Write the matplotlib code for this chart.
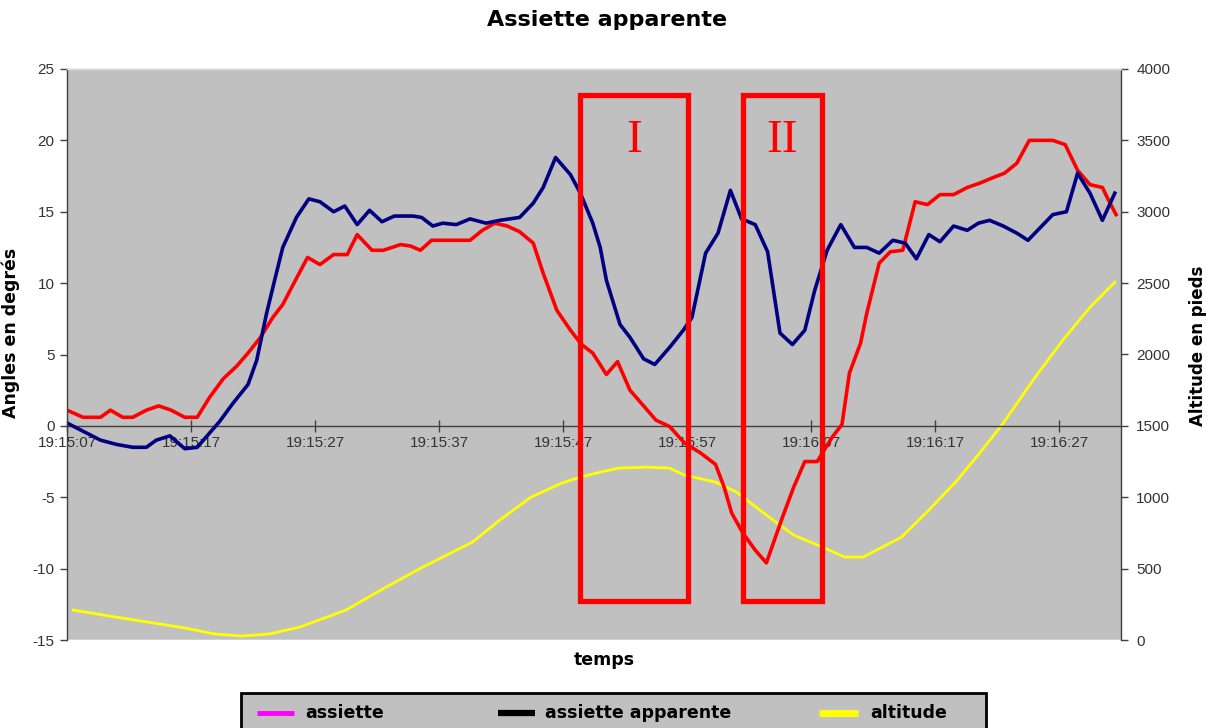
import matplotlib
matplotlib.use("Agg")
import matplotlib.pyplot as plt
from matplotlib.lines import Line2D
from matplotlib.patches import Rectangle

plt.rcParams["axes.unicode_minus"] = False

# ---- data (seconds after 19:15:07) ----
tick_pos = [0, 10, 20, 30, 40, 50, 60, 70, 80]
tick_labels = ["19:15:07", "19:15:17", "19:15:27", "19:15:37", "19:15:47",
               "19:15:57", "19:16:07", "19:16:17", "19:16:27"]

t_app = [0, 2.7, 4, 5.3, 6.4, 7.2, 8.3, 9.5, 10.5, 12.3, 13.4, 14.6, 15.3, 16.1,
         16.8, 17.4, 18.5, 19.5, 20.4, 21.5, 22.4, 23.4, 24.4, 25.4, 26.4, 27.9,
         28.6, 29.5, 30.3, 31.4, 32.5, 33.8, 34.9, 36.5, 37.6, 38.4, 39.4, 40.6,
         41.4, 42.4, 43.0, 43.5, 44.6, 45.4, 46.5, 47.4, 48.6, 49.7, 50.4, 51.5,
         52.5, 53.5, 54.4, 55.5, 56.5, 57.5, 58.5, 59.5, 60.3, 61.3, 62.4, 63.5,
         64.5, 65.5, 66.6, 67.6, 68.5, 69.5, 70.4, 71.5, 72.6, 73.5, 74.4, 75.5,
         76.6, 77.5, 78.5, 79.5, 80.6, 81.5, 82.5, 83.5, 84.5]
assiette_apparente = [0.2, -1.0, -1.3, -1.5, -1.5, -1.0, -0.7, -1.6, -1.5, 0.3, 1.6,
                      2.9, 4.6, 7.9, 10.4, 12.5, 14.6, 15.9, 15.7, 15.0, 15.4, 14.1,
                      15.1, 14.3, 14.7, 14.7, 14.6, 14.0, 14.2, 14.1, 14.5, 14.2,
                      14.4, 14.6, 15.6, 16.7, 18.8, 17.6, 16.3, 14.2, 12.5, 10.2,
                      7.1, 6.2, 4.7, 4.3, 5.5, 6.7, 7.6, 12.1, 13.5, 16.5, 14.5,
                      14.1, 12.2, 6.5, 5.7, 6.7, 9.5, 12.3, 14.1, 12.5, 12.5, 12.1,
                      13.0, 12.8, 11.7, 13.4, 12.9, 14.0, 13.7, 14.2, 14.4, 14.0,
                      13.5, 13.0, 13.9, 14.8, 15.0, 17.7, 16.3, 14.4, 16.3]

t_ass = [0, 1.3, 2.7, 3.5, 4.5, 5.3, 6.4, 7.4, 8.4, 9.5, 10.5, 11.5, 12.6, 13.7,
         14.6, 15.6, 16.6, 17.4, 18.3, 19.4, 20.4, 21.5, 22.6, 23.4, 24.6, 25.5,
         26.9, 27.7, 28.5, 29.4, 32.5, 33.5, 34.5, 35.5, 36.5, 37.6, 38.4, 39.5,
         40.6, 41.5, 42.4, 43.5, 44.4, 45.4, 46.1, 47.5, 48.6, 49.8, 51.1, 52.3,
         53.0, 53.6, 54.5, 55.5, 56.4, 57.7, 58.6, 59.5, 60.5, 61.7, 62.5, 63.1,
         64.0, 64.5, 65.5, 66.4, 67.4, 68.4, 69.4, 70.4, 71.5, 72.6, 73.6, 74.7,
         75.6, 76.6, 77.6, 79.5, 80.5, 81.5, 82.5, 83.5, 84.0, 84.6]
assiette = [1.1, 0.6, 0.6, 1.1, 0.6, 0.6, 1.1, 1.4, 1.1, 0.6, 0.6, 2.0, 3.3, 4.2,
            5.1, 6.2, 7.6, 8.5, 10.0, 11.8, 11.3, 12.0, 12.0, 13.4, 12.3, 12.3,
            12.7, 12.6, 12.3, 13.0, 13.0, 13.7, 14.2, 14.0, 13.6, 12.8, 10.7, 8.1,
            6.7, 5.7, 5.1, 3.6, 4.5, 2.5, 1.8, 0.4, -0.05, -1.2, -1.9, -2.7, -4.3,
            -6.1, -7.5, -8.7, -9.6, -6.4, -4.3, -2.5, -2.5, -0.8, 0.1, 3.7, 5.8,
            7.9, 11.4, 12.2, 12.3, 15.7, 15.5, 16.2, 16.2, 16.7, 17.0, 17.4, 17.7,
            18.4, 20.0, 20.0, 19.7, 17.9, 16.9, 16.7, 15.8, 14.8]

t_alt = [0.5, 3.9, 7.0, 9.5, 11.9, 14.1, 16.3, 18.8, 22.5, 25.6, 28.7, 32.7, 34.9,
         37.4, 39.9, 41.4, 43.0, 44.5, 46.7, 48.6, 49.8, 52.3, 54.0, 56.4, 58.6,
         61.1, 62.7, 64.2, 67.3, 69.5, 71.8, 73.6, 75.5, 77.9, 80.3, 82.5, 84.5]
altitude = [210, 161, 119, 84, 42, 28, 42, 91, 210, 364, 511, 686, 840, 1000, 1099,
            1141, 1176, 1204, 1211, 1204, 1155, 1106, 1036, 875, 735, 644, 581,
            581, 721, 910, 1120, 1309, 1519, 1820, 2100, 2331, 2506]

# highlighted zones (time range, angle range) and labels
zones = [(41.4, 50.1, "I"), (54.5, 60.9, "II")]
zone_ylim = (-12.3, 23.2)

# ---- figure ----
W, H = 1207, 728
fig = plt.figure(figsize=(W / 100, H / 100), dpi=100)
fig.patch.set_facecolor("white")
ax = fig.add_axes([67 / W, 1 - 640 / H, (1121 - 67) / W, (640 - 69) / H])
ax2 = ax.twinx()
ax.set_zorder(ax2.get_zorder() + 1)
ax.patch.set_visible(False)
ax2.patch.set_visible(True)
ax2.patch.set_facecolor("#C0C0C0")

ax2.plot(t_alt, altitude, color="#FFFF00", lw=2.0, solid_joinstyle="round")
ax.plot(t_ass, assiette, color="#FF0000", lw=2.6, solid_joinstyle="round")
ax.plot(t_app, assiette_apparente, color="#000080", lw=2.6, solid_joinstyle="round")

for x0, x1, lab in zones:
    ax.add_patch(Rectangle((x0, zone_ylim[0]), x1 - x0, zone_ylim[1] - zone_ylim[0],
                           fill=False, edgecolor="#FF0000", lw=3.8, zorder=10,
                           joinstyle="miter"))
    ax.text((x0 + x1) / 2, 20.0, lab, color="#FF0000", fontsize=34,
            family="Liberation Serif", ha="center", va="center", zorder=11)

ax.set_xlim(0, 85)
ax.set_ylim(-15, 25)
ax2.set_ylim(0, 4000)
ax.set_yticks(range(-15, 30, 5))
ax2.set_yticks(range(0, 4500, 500))
ax.set_xticks(tick_pos)
ax.set_xticklabels(tick_labels)

for a in (ax, ax2):
    for s in a.spines.values():
        s.set_color("#404040")
        s.set_linewidth(1.0)
    a.spines["top"].set_color("#D8D8D8")

ax.spines["bottom"].set_position(("data", 0))
ax.spines["bottom"].set_zorder(0.5)
ax2.spines["bottom"].set_visible(False)
ax.spines["right"].set_visible(False)
ax2.spines["left"].set_visible(False)

ax.tick_params(axis="x", direction="inout", length=8, width=1, colors="#404040",
               labelcolor="#333333", pad=3)
ax.tick_params(axis="y", direction="out", length=5, width=1, colors="#404040",
               labelcolor="#333333", pad=4)
ax2.tick_params(axis="y", direction="out", length=5, width=1, colors="#404040",
                labelcolor="#333333", pad=6)
for lbl in ax.get_xticklabels() + ax.get_yticklabels() + ax2.get_yticklabels():
    lbl.set_fontfamily("Liberation Sans")
    lbl.set_fontsize(11)

# bottom border of the plot area
ax2.axhline(0, color="#D0D0D0", lw=1.5, zorder=0)

ax.set_ylabel("Angles en degrés", fontsize=12.5, fontweight="bold")
ax.yaxis.set_label_coords((20 - 67) / (1121 - 67), (640 - 333) / 571)
ax2.set_ylabel("Altitude en pieds", fontsize=12, fontweight="bold")
ax2.yaxis.set_label_coords((1189 - 67) / (1121 - 67), (640 - 346) / 571)

fig.text(607 / W, 1 - 20 / H, "Assiette apparente", ha="center", va="center",
         fontsize=16, fontweight="bold")
fig.text(604 / W, 1 - 660 / H, "temps", ha="center", va="center",
         fontsize=12.5, fontweight="bold")

# legend (box cut by the bottom edge as in the original)
fig.add_artist(Rectangle((241 / W, 1 - 745 / H), (986 - 241) / W, (745 - 693) / H,
                         transform=fig.transFigure, facecolor="#C0C0C0",
                         edgecolor="black", lw=2, clip_on=False))
legend_items = [("assiette", "#FF00FF", 3.5, 257, 294, 305),
                ("assiette apparente", "#000000", 4.5, 498, 535, 545),
                ("altitude", "#FFFF00", 5.0, 819, 858, 870)]
ly = 1 - 713 / H
for name, col, lw, hx0, hx1, tx in legend_items:
    fig.add_artist(Line2D([hx0 / W, hx1 / W], [ly, ly], transform=fig.transFigure,
                          color=col, lw=lw, solid_capstyle="butt"))
    fig.text(tx / W, ly, name, ha="left", va="center", fontsize=12.5,
             fontweight="bold")

fig.savefig("out.png", dpi=100)
